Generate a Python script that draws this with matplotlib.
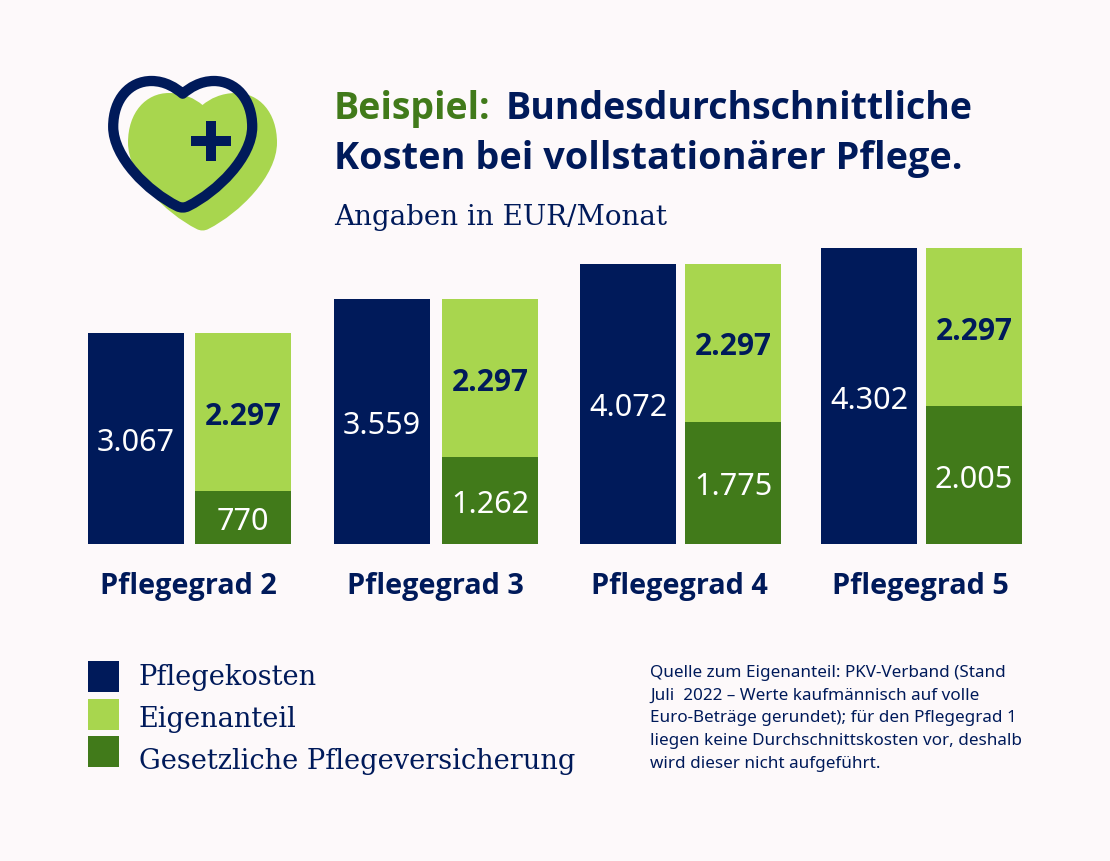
import matplotlib
matplotlib.use('Agg')
import matplotlib.pyplot as plt
from matplotlib.patches import PathPatch, Rectangle
from matplotlib.path import Path

# data
kategorien = ['Pflegegrad 2', 'Pflegegrad 3', 'Pflegegrad 4', 'Pflegegrad 5']
pflegekosten = [3067, 3559, 4072, 4302]
eigenanteil = [2297, 2297, 2297, 2297]
versicherung = [770, 1262, 1775, 2005]
legende = ['Pflegekosten', 'Eigenanteil', 'Gesetzliche Pflegeversicherung']
quelle = ['Quelle zum Eigenanteil: PKV-Verband (Stand',
          'Juli  2022 – Werte kaufmännisch auf volle',
          'Euro-Beträge gerundet); für den Pflegegrad 1',
          'liegen keine Durchschnittskosten vor, deshalb',
          'wird dieser nicht aufgeführt.']

NAVY = '#001A5A'
HELL = '#A8D64E'
DUNKEL = '#417A1A'
BG = '#FDF9FA'
W, H = 1110, 862
BASE = 545
PX_PRO_EUR = 0.0688
SANS = 'Noto Sans'
FETT = 'Open Sans'
SLAB = 'DejaVu Serif'


def fmt(v):
    return f'{v:,}'.replace(',', '.')


def herz(cx, top, breite, hoehe, kerbe):
    # heart outline, right half then left half
    def p(x, y):
        return (cx + x * breite / 2, top + y * hoehe)
    verts = [p(0, kerbe),
             p(.1, kerbe - .045), p(.25, 0), p(.45, 0),
             p(.76, 0), p(1, .14), p(1, .36),
             p(1, .6), p(.5, .87), p(.08, .985),
             p(.03, 1), p(-.03, 1), p(-.08, .985),
             p(-.5, .87), p(-1, .6), p(-1, .36),
             p(-1, .14), p(-.76, 0), p(-.45, 0),
             p(-.25, 0), p(-.1, kerbe - .045), p(0, kerbe),
             p(0, kerbe)]
    codes = [Path.MOVETO] + [Path.CURVE4] * 21 + [Path.CLOSEPOLY]
    return Path(verts, codes)


fig = plt.figure(figsize=(W / 100, H / 100), dpi=100, facecolor=BG)

# overlay in pixel coordinates for text and the icon
ov = fig.add_axes([0, 0, 1, 1])
ov.set_xlim(0, W)
ov.set_ylim(H, 0)
ov.axis('off')

# bars
ax = fig.add_axes([0, (H - BASE) / H, 1, BASE / H])
ax.set_xlim(0, W)
ax.set_ylim(0, BASE / PX_PRO_EUR)
ax.axis('off')
ax.patch.set_alpha(0)

x_links = [88, 334, 580, 821]
x_rechts = [195, 442, 685, 926]
breite = 96

ax.bar(x_links, pflegekosten, width=breite, align='edge', color=NAVY)
ax.bar(x_rechts, versicherung, width=breite, align='edge', color=DUNKEL)
ax.bar(x_rechts, eigenanteil, width=breite, bottom=versicherung, align='edge', color=HELL)

for i, name in enumerate(kategorien):
    xl = x_links[i] + breite / 2
    xr = x_rechts[i] + breite / 2
    ax.text(xl, pflegekosten[i] / 2, fmt(pflegekosten[i]), color='white',
            ha='center', va='center_baseline', fontsize=22, family=SANS)
    ax.text(xr, versicherung[i] / 2, fmt(versicherung[i]), color='white',
            ha='center', va='center_baseline', fontsize=22, family=SANS)
    ax.text(xr, versicherung[i] + eigenanteil[i] / 2, fmt(eigenanteil[i]), color=NAVY,
            ha='center', va='center_baseline', fontsize=21.5, fontweight='bold', family=FETT)
    ov.text((xl + xr) / 2 - 1, 594, name, color=NAVY, ha='center', va='baseline',
            fontsize=20.8, fontweight='bold', family=FETT)

# icon
ov.add_patch(PathPatch(herz(202.5, 94, 149, 138, .087), fc=HELL, ec='none'))
ov.add_patch(PathPatch(herz(182.7, 82, 139, 127, .10), fc='none', ec=NAVY, lw=7.4, joinstyle='round'))
ov.add_patch(Rectangle((191, 137), 40, 10, fc=NAVY, ec='none'))
ov.add_patch(Rectangle((206, 122), 10, 40, fc=NAVY, ec='none'))

# title
ov.text(334, 119, 'Beispiel:', color=DUNKEL, fontsize=27, fontweight='bold', family=FETT, va='baseline')
ov.text(506, 119, 'Bundesdurchschnittliche', color=NAVY, fontsize=27, fontweight='bold', family=FETT, va='baseline')
ov.text(334, 169, 'Kosten bei vollstationärer Pflege.', color=NAVY, fontsize=27.3, fontweight='bold', family=FETT, va='baseline')
ov.text(334, 225, 'Angaben in EUR/Monat', color=NAVY, fontsize=20, family=SLAB, va='baseline')

# legend
for y, farbe, text, base in zip([662, 700, 737], [NAVY, HELL, DUNKEL], legende, [685, 727, 769]):
    ov.add_patch(Rectangle((88, y), 31, 31, fc=farbe, ec='none'))
    ov.text(139, base, text, color=NAVY, fontsize=19.6, family=SLAB, va='baseline')

# source note
for i, zeile in enumerate(quelle):
    ov.text(650, 677 + i * 22.7, zeile, color=NAVY, fontsize=12.3, family=SANS, va='baseline')

fig.savefig('out.png', dpi=100, facecolor=BG)
